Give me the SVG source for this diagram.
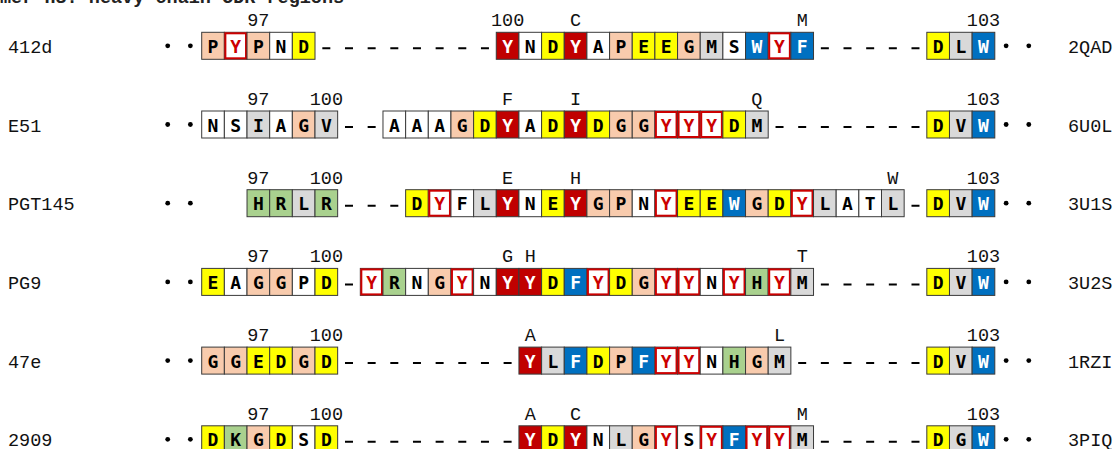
<svg xmlns="http://www.w3.org/2000/svg" width="1115" height="449" viewBox="0 0 1115 449">
<style>
.c{stroke:#3a3a3a;stroke-width:1}
.w{fill:#fff}.y{fill:#ffff00}.p{fill:#f8cbad}.g{fill:#d9d9d9}.b{fill:#0070c0}.gr{fill:#a9d18e}.r{fill:#c00000}
.o{fill:#fff;stroke:#cc0000;stroke-width:2}
.L{font-family:"DejaVu Sans Mono",monospace;font-weight:bold;font-size:18px;text-anchor:middle;fill:#000}
.tw{fill:#fff}.tr{fill:#cc0000}
.n{font-family:"Liberation Mono",monospace;font-size:18.5px;text-anchor:middle;fill:#111}
.lab{font-family:"Liberation Mono",monospace;font-size:18.5px;fill:#111}
.ttl{font-family:"Liberation Mono",monospace;font-size:18.5px;font-weight:bold;fill:#222}
.d{stroke:#000;stroke-width:2;fill:none}
.dot{fill:#000}
</style>
<text class="ttl" x="0" y="2.5">mer H3: heavy chain CDR regions</text>

<g id="row-412d" transform="translate(0,32.3)">
<text class="lab" x="8" y="20.5">412d</text><text class="lab" x="1068" y="20.5">2QAD</text>
<circle class="dot" cx="167.71" cy="13.5" r="2.4"/><circle class="dot" cx="190.37" cy="13.5" r="2.4"/><circle class="dot" cx="1006.13" cy="13.5" r="2.4"/><circle class="dot" cx="1028.79" cy="13.5" r="2.4"/>
<path class="d" d="M322.33 16h8M344.99 16h8M367.65 16h8M390.31 16h8M412.97 16h8M435.63 16h8M458.29 16h8M480.95 16h8M820.85 16h8M843.51 16h8M866.17 16h8M888.83 16h8M911.49 16h8"/>
<text class="n" x="258.35" y="-6">97</text><text class="n" x="507.61" y="-6">100</text><text class="n" x="575.59" y="-6">C</text><text class="n" x="802.19" y="-6">M</text><text class="n" x="983.47" y="-6">103</text>
<rect class="c p" x="201.7" y="0" width="22.66" height="27"/><text class="L" x="213.03" y="20.5">P</text>
<rect class="c w" x="224.36" y="0" width="22.66" height="27"/><rect class="o" x="225.36" y="1" width="20.66" height="25"/><text class="L tr" x="235.69" y="20.5">Y</text>
<rect class="c p" x="247.02" y="0" width="22.66" height="27"/><text class="L" x="258.35" y="20.5">P</text>
<rect class="c w" x="269.68" y="0" width="22.66" height="27"/><text class="L" x="281.01" y="20.5">N</text>
<rect class="c y" x="292.34" y="0" width="22.66" height="27"/><text class="L" x="303.67" y="20.5">D</text>
<rect class="c r" x="496.28" y="0" width="22.66" height="27"/><text class="L tw" x="507.61" y="20.5">Y</text>
<rect class="c w" x="518.94" y="0" width="22.66" height="27"/><text class="L" x="530.27" y="20.5">N</text>
<rect class="c y" x="541.6" y="0" width="22.66" height="27"/><text class="L" x="552.93" y="20.5">D</text>
<rect class="c r" x="564.26" y="0" width="22.66" height="27"/><text class="L tw" x="575.59" y="20.5">Y</text>
<rect class="c w" x="586.92" y="0" width="22.66" height="27"/><text class="L" x="598.25" y="20.5">A</text>
<rect class="c p" x="609.58" y="0" width="22.66" height="27"/><text class="L" x="620.91" y="20.5">P</text>
<rect class="c y" x="632.24" y="0" width="22.66" height="27"/><text class="L" x="643.57" y="20.5">E</text>
<rect class="c y" x="654.9" y="0" width="22.66" height="27"/><text class="L" x="666.23" y="20.5">E</text>
<rect class="c p" x="677.56" y="0" width="22.66" height="27"/><text class="L" x="688.89" y="20.5">G</text>
<rect class="c g" x="700.22" y="0" width="22.66" height="27"/><text class="L" x="711.55" y="20.5">M</text>
<rect class="c w" x="722.88" y="0" width="22.66" height="27"/><text class="L" x="734.21" y="20.5">S</text>
<rect class="c b" x="745.54" y="0" width="22.66" height="27"/><text class="L tw" x="756.87" y="20.5">W</text>
<rect class="c w" x="768.2" y="0" width="22.66" height="27"/><rect class="o" x="769.2" y="1" width="20.66" height="25"/><text class="L tr" x="779.53" y="20.5">Y</text>
<rect class="c b" x="790.86" y="0" width="22.66" height="27"/><text class="L tw" x="802.19" y="20.5">F</text>
<rect class="c y" x="926.82" y="0" width="22.66" height="27"/><text class="L" x="938.15" y="20.5">D</text>
<rect class="c g" x="949.48" y="0" width="22.66" height="27"/><text class="L" x="960.81" y="20.5">L</text>
<rect class="c b" x="972.14" y="0" width="22.66" height="27"/><text class="L tw" x="983.47" y="20.5">W</text>
</g>

<g id="row-E51" transform="translate(0,111)">
<text class="lab" x="8" y="20.5">E51</text><text class="lab" x="1068" y="20.5">6U0L</text>
<circle class="dot" cx="167.71" cy="13.5" r="2.4"/><circle class="dot" cx="190.37" cy="13.5" r="2.4"/><circle class="dot" cx="1006.13" cy="13.5" r="2.4"/><circle class="dot" cx="1028.79" cy="13.5" r="2.4"/>
<path class="d" d="M344.99 16h8M367.65 16h8M775.53 16h8M798.19 16h8M820.85 16h8M843.51 16h8M866.17 16h8M888.83 16h8M911.49 16h8"/>
<text class="n" x="258.35" y="-6">97</text><text class="n" x="326.33" y="-6">100</text><text class="n" x="507.61" y="-6">F</text><text class="n" x="575.59" y="-6">I</text><text class="n" x="756.87" y="-6">Q</text><text class="n" x="983.47" y="-6">103</text>
<rect class="c w" x="201.7" y="0" width="22.66" height="27"/><text class="L" x="213.03" y="20.5">N</text>
<rect class="c w" x="224.36" y="0" width="22.66" height="27"/><text class="L" x="235.69" y="20.5">S</text>
<rect class="c g" x="247.02" y="0" width="22.66" height="27"/><text class="L" x="258.35" y="20.5">I</text>
<rect class="c w" x="269.68" y="0" width="22.66" height="27"/><text class="L" x="281.01" y="20.5">A</text>
<rect class="c p" x="292.34" y="0" width="22.66" height="27"/><text class="L" x="303.67" y="20.5">G</text>
<rect class="c g" x="315" y="0" width="22.66" height="27"/><text class="L" x="326.33" y="20.5">V</text>
<rect class="c w" x="382.98" y="0" width="22.66" height="27"/><text class="L" x="394.31" y="20.5">A</text>
<rect class="c w" x="405.64" y="0" width="22.66" height="27"/><text class="L" x="416.97" y="20.5">A</text>
<rect class="c w" x="428.3" y="0" width="22.66" height="27"/><text class="L" x="439.63" y="20.5">A</text>
<rect class="c p" x="450.96" y="0" width="22.66" height="27"/><text class="L" x="462.29" y="20.5">G</text>
<rect class="c y" x="473.62" y="0" width="22.66" height="27"/><text class="L" x="484.95" y="20.5">D</text>
<rect class="c r" x="496.28" y="0" width="22.66" height="27"/><text class="L tw" x="507.61" y="20.5">Y</text>
<rect class="c w" x="518.94" y="0" width="22.66" height="27"/><text class="L" x="530.27" y="20.5">A</text>
<rect class="c y" x="541.6" y="0" width="22.66" height="27"/><text class="L" x="552.93" y="20.5">D</text>
<rect class="c r" x="564.26" y="0" width="22.66" height="27"/><text class="L tw" x="575.59" y="20.5">Y</text>
<rect class="c y" x="586.92" y="0" width="22.66" height="27"/><text class="L" x="598.25" y="20.5">D</text>
<rect class="c p" x="609.58" y="0" width="22.66" height="27"/><text class="L" x="620.91" y="20.5">G</text>
<rect class="c p" x="632.24" y="0" width="22.66" height="27"/><text class="L" x="643.57" y="20.5">G</text>
<rect class="c w" x="654.9" y="0" width="22.66" height="27"/><rect class="o" x="655.9" y="1" width="20.66" height="25"/><text class="L tr" x="666.23" y="20.5">Y</text>
<rect class="c w" x="677.56" y="0" width="22.66" height="27"/><rect class="o" x="678.56" y="1" width="20.66" height="25"/><text class="L tr" x="688.89" y="20.5">Y</text>
<rect class="c w" x="700.22" y="0" width="22.66" height="27"/><rect class="o" x="701.22" y="1" width="20.66" height="25"/><text class="L tr" x="711.55" y="20.5">Y</text>
<rect class="c y" x="722.88" y="0" width="22.66" height="27"/><text class="L" x="734.21" y="20.5">D</text>
<rect class="c g" x="745.54" y="0" width="22.66" height="27"/><text class="L" x="756.87" y="20.5">M</text>
<rect class="c y" x="926.82" y="0" width="22.66" height="27"/><text class="L" x="938.15" y="20.5">D</text>
<rect class="c g" x="949.48" y="0" width="22.66" height="27"/><text class="L" x="960.81" y="20.5">V</text>
<rect class="c b" x="972.14" y="0" width="22.66" height="27"/><text class="L tw" x="983.47" y="20.5">W</text>
</g>

<g id="row-PGT145" transform="translate(0,189.7)">
<text class="lab" x="8" y="20.5">PGT145</text><text class="lab" x="1068" y="20.5">3U1S</text>
<circle class="dot" cx="167.71" cy="13.5" r="2.4"/><circle class="dot" cx="190.37" cy="13.5" r="2.4"/><circle class="dot" cx="1006.13" cy="13.5" r="2.4"/><circle class="dot" cx="1028.79" cy="13.5" r="2.4"/>
<path class="d" d="M344.99 16h8M367.65 16h8M390.31 16h8M911.49 16h8"/>
<text class="n" x="258.35" y="-6">97</text><text class="n" x="326.33" y="-6">100</text><text class="n" x="507.61" y="-6">E</text><text class="n" x="575.59" y="-6">H</text><text class="n" x="892.83" y="-6">W</text><text class="n" x="983.47" y="-6">103</text>
<rect class="c gr" x="247.02" y="0" width="22.66" height="27"/><text class="L" x="258.35" y="20.5">H</text>
<rect class="c gr" x="269.68" y="0" width="22.66" height="27"/><text class="L" x="281.01" y="20.5">R</text>
<rect class="c g" x="292.34" y="0" width="22.66" height="27"/><text class="L" x="303.67" y="20.5">L</text>
<rect class="c gr" x="315" y="0" width="22.66" height="27"/><text class="L" x="326.33" y="20.5">R</text>
<rect class="c y" x="405.64" y="0" width="22.66" height="27"/><text class="L" x="416.97" y="20.5">D</text>
<rect class="c w" x="428.3" y="0" width="22.66" height="27"/><rect class="o" x="429.3" y="1" width="20.66" height="25"/><text class="L tr" x="439.63" y="20.5">Y</text>
<rect class="c w" x="450.96" y="0" width="22.66" height="27"/><text class="L" x="462.29" y="20.5">F</text>
<rect class="c g" x="473.62" y="0" width="22.66" height="27"/><text class="L" x="484.95" y="20.5">L</text>
<rect class="c r" x="496.28" y="0" width="22.66" height="27"/><text class="L tw" x="507.61" y="20.5">Y</text>
<rect class="c w" x="518.94" y="0" width="22.66" height="27"/><text class="L" x="530.27" y="20.5">N</text>
<rect class="c y" x="541.6" y="0" width="22.66" height="27"/><text class="L" x="552.93" y="20.5">E</text>
<rect class="c r" x="564.26" y="0" width="22.66" height="27"/><text class="L tw" x="575.59" y="20.5">Y</text>
<rect class="c p" x="586.92" y="0" width="22.66" height="27"/><text class="L" x="598.25" y="20.5">G</text>
<rect class="c p" x="609.58" y="0" width="22.66" height="27"/><text class="L" x="620.91" y="20.5">P</text>
<rect class="c w" x="632.24" y="0" width="22.66" height="27"/><text class="L" x="643.57" y="20.5">N</text>
<rect class="c w" x="654.9" y="0" width="22.66" height="27"/><rect class="o" x="655.9" y="1" width="20.66" height="25"/><text class="L tr" x="666.23" y="20.5">Y</text>
<rect class="c y" x="677.56" y="0" width="22.66" height="27"/><text class="L" x="688.89" y="20.5">E</text>
<rect class="c y" x="700.22" y="0" width="22.66" height="27"/><text class="L" x="711.55" y="20.5">E</text>
<rect class="c b" x="722.88" y="0" width="22.66" height="27"/><text class="L tw" x="734.21" y="20.5">W</text>
<rect class="c p" x="745.54" y="0" width="22.66" height="27"/><text class="L" x="756.87" y="20.5">G</text>
<rect class="c y" x="768.2" y="0" width="22.66" height="27"/><text class="L" x="779.53" y="20.5">D</text>
<rect class="c w" x="790.86" y="0" width="22.66" height="27"/><rect class="o" x="791.86" y="1" width="20.66" height="25"/><text class="L tr" x="802.19" y="20.5">Y</text>
<rect class="c g" x="813.52" y="0" width="22.66" height="27"/><text class="L" x="824.85" y="20.5">L</text>
<rect class="c w" x="836.18" y="0" width="22.66" height="27"/><text class="L" x="847.51" y="20.5">A</text>
<rect class="c w" x="858.84" y="0" width="22.66" height="27"/><text class="L" x="870.17" y="20.5">T</text>
<rect class="c g" x="881.5" y="0" width="22.66" height="27"/><text class="L" x="892.83" y="20.5">L</text>
<rect class="c y" x="926.82" y="0" width="22.66" height="27"/><text class="L" x="938.15" y="20.5">D</text>
<rect class="c g" x="949.48" y="0" width="22.66" height="27"/><text class="L" x="960.81" y="20.5">V</text>
<rect class="c b" x="972.14" y="0" width="22.66" height="27"/><text class="L tw" x="983.47" y="20.5">W</text>
</g>

<g id="row-PG9" transform="translate(0,268.4)">
<text class="lab" x="8" y="20.5">PG9</text><text class="lab" x="1068" y="20.5">3U2S</text>
<circle class="dot" cx="167.71" cy="13.5" r="2.4"/><circle class="dot" cx="190.37" cy="13.5" r="2.4"/><circle class="dot" cx="1006.13" cy="13.5" r="2.4"/><circle class="dot" cx="1028.79" cy="13.5" r="2.4"/>
<path class="d" d="M344.99 16h8M820.85 16h8M843.51 16h8M866.17 16h8M888.83 16h8M911.49 16h8"/>
<text class="n" x="258.35" y="-6">97</text><text class="n" x="326.33" y="-6">100</text><text class="n" x="507.61" y="-6">G</text><text class="n" x="530.27" y="-6">H</text><text class="n" x="802.19" y="-6">T</text><text class="n" x="983.47" y="-6">103</text>
<rect class="c y" x="201.7" y="0" width="22.66" height="27"/><text class="L" x="213.03" y="20.5">E</text>
<rect class="c w" x="224.36" y="0" width="22.66" height="27"/><text class="L" x="235.69" y="20.5">A</text>
<rect class="c p" x="247.02" y="0" width="22.66" height="27"/><text class="L" x="258.35" y="20.5">G</text>
<rect class="c p" x="269.68" y="0" width="22.66" height="27"/><text class="L" x="281.01" y="20.5">G</text>
<rect class="c w" x="292.34" y="0" width="22.66" height="27"/><text class="L" x="303.67" y="20.5">P</text>
<rect class="c y" x="315" y="0" width="22.66" height="27"/><text class="L" x="326.33" y="20.5">D</text>
<rect class="c w" x="360.32" y="0" width="22.66" height="27"/><rect class="o" x="361.32" y="1" width="20.66" height="25"/><text class="L tr" x="371.65" y="20.5">Y</text>
<rect class="c gr" x="382.98" y="0" width="22.66" height="27"/><text class="L" x="394.31" y="20.5">R</text>
<rect class="c w" x="405.64" y="0" width="22.66" height="27"/><text class="L" x="416.97" y="20.5">N</text>
<rect class="c p" x="428.3" y="0" width="22.66" height="27"/><text class="L" x="439.63" y="20.5">G</text>
<rect class="c w" x="450.96" y="0" width="22.66" height="27"/><rect class="o" x="451.96" y="1" width="20.66" height="25"/><text class="L tr" x="462.29" y="20.5">Y</text>
<rect class="c w" x="473.62" y="0" width="22.66" height="27"/><text class="L" x="484.95" y="20.5">N</text>
<rect class="c r" x="496.28" y="0" width="22.66" height="27"/><text class="L tw" x="507.61" y="20.5">Y</text>
<rect class="c r" x="518.94" y="0" width="22.66" height="27"/><text class="L tw" x="530.27" y="20.5">Y</text>
<rect class="c y" x="541.6" y="0" width="22.66" height="27"/><text class="L" x="552.93" y="20.5">D</text>
<rect class="c b" x="564.26" y="0" width="22.66" height="27"/><text class="L tw" x="575.59" y="20.5">F</text>
<rect class="c w" x="586.92" y="0" width="22.66" height="27"/><rect class="o" x="587.92" y="1" width="20.66" height="25"/><text class="L tr" x="598.25" y="20.5">Y</text>
<rect class="c y" x="609.58" y="0" width="22.66" height="27"/><text class="L" x="620.91" y="20.5">D</text>
<rect class="c p" x="632.24" y="0" width="22.66" height="27"/><text class="L" x="643.57" y="20.5">G</text>
<rect class="c w" x="654.9" y="0" width="22.66" height="27"/><rect class="o" x="655.9" y="1" width="20.66" height="25"/><text class="L tr" x="666.23" y="20.5">Y</text>
<rect class="c w" x="677.56" y="0" width="22.66" height="27"/><rect class="o" x="678.56" y="1" width="20.66" height="25"/><text class="L tr" x="688.89" y="20.5">Y</text>
<rect class="c w" x="700.22" y="0" width="22.66" height="27"/><text class="L" x="711.55" y="20.5">N</text>
<rect class="c w" x="722.88" y="0" width="22.66" height="27"/><rect class="o" x="723.88" y="1" width="20.66" height="25"/><text class="L tr" x="734.21" y="20.5">Y</text>
<rect class="c gr" x="745.54" y="0" width="22.66" height="27"/><text class="L" x="756.87" y="20.5">H</text>
<rect class="c w" x="768.2" y="0" width="22.66" height="27"/><rect class="o" x="769.2" y="1" width="20.66" height="25"/><text class="L tr" x="779.53" y="20.5">Y</text>
<rect class="c g" x="790.86" y="0" width="22.66" height="27"/><text class="L" x="802.19" y="20.5">M</text>
<rect class="c y" x="926.82" y="0" width="22.66" height="27"/><text class="L" x="938.15" y="20.5">D</text>
<rect class="c g" x="949.48" y="0" width="22.66" height="27"/><text class="L" x="960.81" y="20.5">V</text>
<rect class="c b" x="972.14" y="0" width="22.66" height="27"/><text class="L tw" x="983.47" y="20.5">W</text>
</g>

<g id="row-47e" transform="translate(0,347.1)">
<text class="lab" x="8" y="20.5">47e</text><text class="lab" x="1068" y="20.5">1RZI</text>
<circle class="dot" cx="167.71" cy="13.5" r="2.4"/><circle class="dot" cx="190.37" cy="13.5" r="2.4"/><circle class="dot" cx="1006.13" cy="13.5" r="2.4"/><circle class="dot" cx="1028.79" cy="13.5" r="2.4"/>
<path class="d" d="M344.99 16h8M367.65 16h8M390.31 16h8M412.97 16h8M435.63 16h8M458.29 16h8M480.95 16h8M503.61 16h8M798.19 16h8M820.85 16h8M843.51 16h8M866.17 16h8M888.83 16h8M911.49 16h8"/>
<text class="n" x="258.35" y="-6">97</text><text class="n" x="326.33" y="-6">100</text><text class="n" x="530.27" y="-6">A</text><text class="n" x="779.53" y="-6">L</text><text class="n" x="983.47" y="-6">103</text>
<rect class="c p" x="201.7" y="0" width="22.66" height="27"/><text class="L" x="213.03" y="20.5">G</text>
<rect class="c p" x="224.36" y="0" width="22.66" height="27"/><text class="L" x="235.69" y="20.5">G</text>
<rect class="c y" x="247.02" y="0" width="22.66" height="27"/><text class="L" x="258.35" y="20.5">E</text>
<rect class="c y" x="269.68" y="0" width="22.66" height="27"/><text class="L" x="281.01" y="20.5">D</text>
<rect class="c p" x="292.34" y="0" width="22.66" height="27"/><text class="L" x="303.67" y="20.5">G</text>
<rect class="c y" x="315" y="0" width="22.66" height="27"/><text class="L" x="326.33" y="20.5">D</text>
<rect class="c r" x="518.94" y="0" width="22.66" height="27"/><text class="L tw" x="530.27" y="20.5">Y</text>
<rect class="c g" x="541.6" y="0" width="22.66" height="27"/><text class="L" x="552.93" y="20.5">L</text>
<rect class="c b" x="564.26" y="0" width="22.66" height="27"/><text class="L tw" x="575.59" y="20.5">F</text>
<rect class="c y" x="586.92" y="0" width="22.66" height="27"/><text class="L" x="598.25" y="20.5">D</text>
<rect class="c p" x="609.58" y="0" width="22.66" height="27"/><text class="L" x="620.91" y="20.5">P</text>
<rect class="c b" x="632.24" y="0" width="22.66" height="27"/><text class="L tw" x="643.57" y="20.5">F</text>
<rect class="c w" x="654.9" y="0" width="22.66" height="27"/><rect class="o" x="655.9" y="1" width="20.66" height="25"/><text class="L tr" x="666.23" y="20.5">Y</text>
<rect class="c w" x="677.56" y="0" width="22.66" height="27"/><rect class="o" x="678.56" y="1" width="20.66" height="25"/><text class="L tr" x="688.89" y="20.5">Y</text>
<rect class="c w" x="700.22" y="0" width="22.66" height="27"/><text class="L" x="711.55" y="20.5">N</text>
<rect class="c gr" x="722.88" y="0" width="22.66" height="27"/><text class="L" x="734.21" y="20.5">H</text>
<rect class="c p" x="745.54" y="0" width="22.66" height="27"/><text class="L" x="756.87" y="20.5">G</text>
<rect class="c g" x="768.2" y="0" width="22.66" height="27"/><text class="L" x="779.53" y="20.5">M</text>
<rect class="c y" x="926.82" y="0" width="22.66" height="27"/><text class="L" x="938.15" y="20.5">D</text>
<rect class="c g" x="949.48" y="0" width="22.66" height="27"/><text class="L" x="960.81" y="20.5">V</text>
<rect class="c b" x="972.14" y="0" width="22.66" height="27"/><text class="L tw" x="983.47" y="20.5">W</text>
</g>

<g id="row-2909" transform="translate(0,425.8)">
<text class="lab" x="8" y="20.5">2909</text><text class="lab" x="1068" y="20.5">3PIQ</text>
<circle class="dot" cx="167.71" cy="13.5" r="2.4"/><circle class="dot" cx="190.37" cy="13.5" r="2.4"/><circle class="dot" cx="1006.13" cy="13.5" r="2.4"/><circle class="dot" cx="1028.79" cy="13.5" r="2.4"/>
<path class="d" d="M344.99 16h8M367.65 16h8M390.31 16h8M412.97 16h8M435.63 16h8M458.29 16h8M480.95 16h8M503.61 16h8M820.85 16h8M843.51 16h8M866.17 16h8M888.83 16h8M911.49 16h8"/>
<text class="n" x="258.35" y="-6">97</text><text class="n" x="326.33" y="-6">100</text><text class="n" x="530.27" y="-6">A</text><text class="n" x="575.59" y="-6">C</text><text class="n" x="802.19" y="-6">M</text><text class="n" x="983.47" y="-6">103</text>
<rect class="c y" x="201.7" y="0" width="22.66" height="27"/><text class="L" x="213.03" y="20.5">D</text>
<rect class="c gr" x="224.36" y="0" width="22.66" height="27"/><text class="L" x="235.69" y="20.5">K</text>
<rect class="c p" x="247.02" y="0" width="22.66" height="27"/><text class="L" x="258.35" y="20.5">G</text>
<rect class="c y" x="269.68" y="0" width="22.66" height="27"/><text class="L" x="281.01" y="20.5">D</text>
<rect class="c w" x="292.34" y="0" width="22.66" height="27"/><text class="L" x="303.67" y="20.5">S</text>
<rect class="c y" x="315" y="0" width="22.66" height="27"/><text class="L" x="326.33" y="20.5">D</text>
<rect class="c r" x="518.94" y="0" width="22.66" height="27"/><text class="L tw" x="530.27" y="20.5">Y</text>
<rect class="c y" x="541.6" y="0" width="22.66" height="27"/><text class="L" x="552.93" y="20.5">D</text>
<rect class="c r" x="564.26" y="0" width="22.66" height="27"/><text class="L tw" x="575.59" y="20.5">Y</text>
<rect class="c w" x="586.92" y="0" width="22.66" height="27"/><text class="L" x="598.25" y="20.5">N</text>
<rect class="c g" x="609.58" y="0" width="22.66" height="27"/><text class="L" x="620.91" y="20.5">L</text>
<rect class="c p" x="632.24" y="0" width="22.66" height="27"/><text class="L" x="643.57" y="20.5">G</text>
<rect class="c w" x="654.9" y="0" width="22.66" height="27"/><rect class="o" x="655.9" y="1" width="20.66" height="25"/><text class="L tr" x="666.23" y="20.5">Y</text>
<rect class="c w" x="677.56" y="0" width="22.66" height="27"/><text class="L" x="688.89" y="20.5">S</text>
<rect class="c w" x="700.22" y="0" width="22.66" height="27"/><rect class="o" x="701.22" y="1" width="20.66" height="25"/><text class="L tr" x="711.55" y="20.5">Y</text>
<rect class="c b" x="722.88" y="0" width="22.66" height="27"/><text class="L tw" x="734.21" y="20.5">F</text>
<rect class="c w" x="745.54" y="0" width="22.66" height="27"/><rect class="o" x="746.54" y="1" width="20.66" height="25"/><text class="L tr" x="756.87" y="20.5">Y</text>
<rect class="c w" x="768.2" y="0" width="22.66" height="27"/><rect class="o" x="769.2" y="1" width="20.66" height="25"/><text class="L tr" x="779.53" y="20.5">Y</text>
<rect class="c g" x="790.86" y="0" width="22.66" height="27"/><text class="L" x="802.19" y="20.5">M</text>
<rect class="c y" x="926.82" y="0" width="22.66" height="27"/><text class="L" x="938.15" y="20.5">D</text>
<rect class="c g" x="949.48" y="0" width="22.66" height="27"/><text class="L" x="960.81" y="20.5">G</text>
<rect class="c b" x="972.14" y="0" width="22.66" height="27"/><text class="L tw" x="983.47" y="20.5">W</text>
</g>
</svg>
